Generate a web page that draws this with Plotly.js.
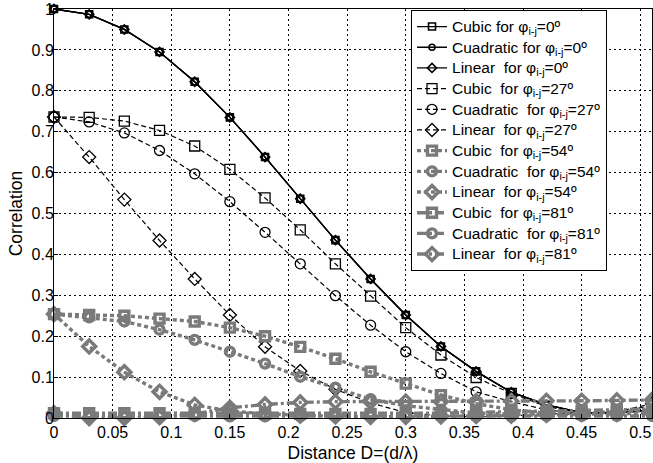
<!DOCTYPE html>
<html>
<head>
<meta charset="utf-8">
<script src="https://cdn.plot.ly/plotly-3.0.1.min.js"></script>
<style>html,body{margin:0;padding:0;background:#fff;}#chart{width:653px;height:463px;}</style>
</head>
<body>
<div id="chart"></div>
<script>
const distance = [0, 0.03, 0.06, 0.09, 0.12, 0.15, 0.18, 0.21, 0.24, 0.27, 0.30, 0.33, 0.36, 0.39, 0.42, 0.45, 0.48, 0.51];

const cubic0 = [1.0, 0.987, 0.950, 0.895, 0.822, 0.735, 0.638, 0.536, 0.435, 0.340, 0.252, 0.175, 0.114, 0.063, 0.032, 0.013, 0.012, 0.020];
const quad0  = [1.0, 0.987, 0.950, 0.895, 0.822, 0.735, 0.638, 0.536, 0.435, 0.340, 0.252, 0.175, 0.114, 0.063, 0.032, 0.013, 0.012, 0.020];
const lin0   = [1.0, 0.987, 0.950, 0.895, 0.822, 0.735, 0.638, 0.536, 0.435, 0.340, 0.252, 0.175, 0.114, 0.063, 0.032, 0.013, 0.012, 0.020];

const cubic27 = [0.736, 0.735, 0.726, 0.703, 0.665, 0.608, 0.538, 0.460, 0.377, 0.298, 0.221, 0.154, 0.099, 0.060, 0.028, 0.012, 0.015, 0.030];
const quad27  = [0.736, 0.724, 0.697, 0.654, 0.597, 0.529, 0.454, 0.377, 0.299, 0.227, 0.162, 0.109, 0.064, 0.040, 0.020, 0.010, 0.012, 0.020];
const lin27   = [0.736, 0.638, 0.534, 0.434, 0.340, 0.252, 0.174, 0.115, 0.070, 0.037, 0.013, 0.005, 0.003, 0.005, 0.010, 0.012, 0.015, 0.035];

const cubic54 = [0.254, 0.252, 0.250, 0.243, 0.236, 0.221, 0.200, 0.174, 0.145, 0.113, 0.084, 0.056, 0.035, 0.020, 0.012, 0.010, 0.015, 0.020];
const quad54  = [0.254, 0.246, 0.236, 0.216, 0.191, 0.162, 0.133, 0.101, 0.074, 0.046, 0.030, 0.020, 0.012, 0.010, 0.010, 0.012, 0.015, 0.018];
const lin54   = [0.254, 0.175, 0.112, 0.064, 0.032, 0.017, 0.010, 0.006, 0.004, 0.003, 0.003, 0.004, 0.005, 0.006, 0.008, 0.010, 0.010, 0.012];

const cubic81 = [0.012, 0.012, 0.012, 0.012, 0.011, 0.010, 0.010, 0.010, 0.010, 0.010, 0.012, 0.012, 0.014, 0.015, 0.016, 0.018, 0.020, 0.022];
const quad81  = [0.005, 0.005, 0.005, 0.005, 0.005, 0.004, 0.004, 0.004, 0.004, 0.004, 0.004, 0.004, 0.004, 0.004, 0.005, 0.005, 0.005, 0.005];
const lin81   = [0.012, 0.000, 0.000, 0.002, 0.010, 0.025, 0.033, 0.038, 0.040, 0.040, 0.040, 0.040, 0.041, 0.041, 0.042, 0.042, 0.043, 0.044];

const names = [
  "Cubic for φ<sub>i-j</sub>=0º",
  "Cuadratic for φ<sub>i-j</sub>=0º",
  "Linear&nbsp; for φ<sub>i-j</sub>=0º",
  "Cubic&nbsp; for φ<sub>i-j</sub>=27º",
  "Cuadratic&nbsp; for φ<sub>i-j</sub>=27º",
  "Linear&nbsp; for φ<sub>i-j</sub>=27º",
  "Cubic&nbsp; for φ<sub>i-j</sub>=54º",
  "Cuadratic&nbsp; for φ<sub>i-j</sub>=54º",
  "Linear&nbsp; for φ<sub>i-j</sub>=54º",
  "Cubic&nbsp; for φ<sub>i-j</sub>=81º",
  "Cuadratic&nbsp; for φ<sub>i-j</sub>=81º",
  "Linear&nbsp; for φ<sub>i-j</sub>=81º"
];
const series = [cubic0, quad0, lin0, cubic27, quad27, lin27, cubic54, quad54, lin54, cubic81, quad81, lin81];

const symbols = ['square-open', 'circle-open', 'diamond-open'];
const groupStyle = [
  {color: '#000000', dash: 'solid',   width: 1.3, msize: [7, 6, 7],  mwidth: 1.6},
  {color: '#000000', dash: '5px,3px', width: 1.2, msize: [10, 10, 10], mwidth: 1.3},
  {color: '#7a7a7a', dash: '4px,3px', width: 3.4, msize: [9, 9, 10], mwidth: 3.4},
  {color: '#7a7a7a', dash: '9px,3px,3px,3px', width: 3.4, msize: [9, 9, 10], mwidth: 3.4}
];

const traces = series.map((y, i) => {
  const g = groupStyle[Math.floor(i / 3)];
  return {
    x: distance, y: y, name: '<span style="font-size:15.5px">' + names[i] + '</span>',
    type: 'scatter', mode: 'lines+markers',
    cliponaxis: false,
    line: {color: g.color, dash: g.dash, width: g.width},
    marker: {symbol: symbols[i % 3], size: g.msize[i % 3], color: g.color, line: {color: g.color, width: g.mwidth}}
  };
});

const layout = {
  width: 653, height: 463,
  margin: {l: 54, r: 1, t: 9, b: 45},
  paper_bgcolor: '#ffffff', plot_bgcolor: '#ffffff',
  font: {family: '"Liberation Sans", Arial, sans-serif', size: 16, color: '#000'},
  showlegend: true,
  legend: {
    x: 0.597, y: 0.997, xanchor: 'left', yanchor: 'top',
    bgcolor: '#ffffff', bordercolor: '#000000', borderwidth: 1,
    font: {size: 13.6, color: '#000'}, tracegroupgap: 0, itemwidth: 30,
    traceorder: 'normal'
  },
  xaxis: {
    range: [0, 0.51], tickvals: [0, 0.05, 0.1, 0.15, 0.2, 0.25, 0.3, 0.35, 0.4, 0.45, 0.5],
    ticktext: ['0', '0.05', '0.1', '0.15', '0.2', '0.25', '0.3', '0.35', '0.4', '0.45', '0.5'],
    showgrid: true, gridcolor: '#000000', griddash: '2px,3px', gridwidth: 1,
    showline: true, linecolor: '#000000', linewidth: 1, mirror: true,
    ticks: 'inside', ticklen: 4, tickcolor: '#000', zeroline: false,
    tickfont: {size: 16},
    title: {text: 'Distance D=(d/λ)', font: {size: 17.5}, standoff: 9}
  },
  yaxis: {
    range: [0, 1], tickvals: [0, 0.1, 0.2, 0.3, 0.4, 0.5, 0.6, 0.7, 0.8, 0.9, 1],
    ticktext: ['0', '0.1', '0.2', '0.3', '0.4', '0.5', '0.6', '0.7', '0.8', '0.9', '1'],
    showgrid: true, gridcolor: '#000000', griddash: '2px,3px', gridwidth: 1,
    showline: true, linecolor: '#000000', linewidth: 1, mirror: true,
    ticks: 'inside', ticklen: 4, tickcolor: '#000', zeroline: false,
    tickfont: {size: 16}, ticklabelstandoff: -4,
    title: {text: 'Correlation', font: {size: 17.5}, standoff: 4}
  }
};

Plotly.newPlot('chart', traces, layout, {displayModeBar: false, staticPlot: true});
</script>
</body>
</html>
